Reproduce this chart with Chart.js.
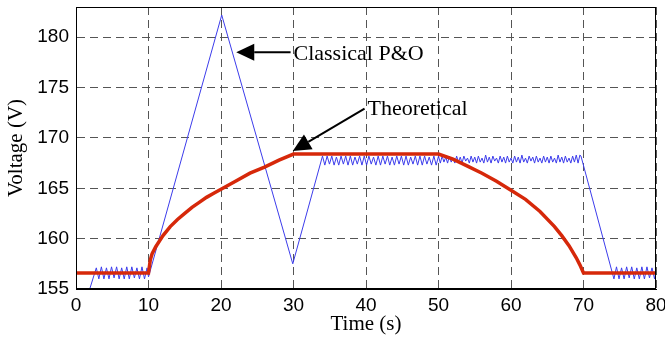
<!DOCTYPE html>
<html>
<head>
<meta charset="utf-8">
<script src="https://cdn.jsdelivr.net/npm/chart.js@4/dist/chart.umd.min.js"></script>
<style>
  body { margin: 0; background: #fff; }
</style>
</head>
<body>
<canvas id="chart" width="665" height="341"></canvas>
<script>
// time (s), voltage (V)
var theoretical = [
    [0, 156.6], [10, 156.6], [10.25, 157.9], [10.5, 158.5], [11, 159.2], [12, 160.3],
    [13, 161.2], [14, 161.9], [15, 162.5], [16, 163.1], [17, 163.6], [18, 164.1],
    [19, 164.5], [20, 164.9], [22, 165.7], [24, 166.5], [26, 167.1], [28, 167.8],
    [30, 168.4], [50, 168.4], [52, 167.9], [54, 167.2], [56, 166.5], [58, 165.7],
    [60, 164.8], [62, 163.9], [64, 162.7], [66, 161.2], [67, 160.3], [68, 159.3],
    [69, 158.1], [69.5, 157.4], [70, 156.6], [80, 156.6]
];

var classicalPO = [
    [0, 150.6], [2.8, 157.1],
    [3.15, 156.0], [3.5, 157.2], [3.85, 156.0], [4.2, 157.1], [4.55, 156.0], [4.9, 157.2],
    [5.25, 156.1], [5.6, 157.2], [5.95, 156.0], [6.3, 157.1], [6.65, 156.0], [7.0, 157.2],
    [7.35, 156.0], [7.7, 157.2], [8.05, 156.1], [8.4, 157.1], [8.75, 156.0], [9.1, 157.2],
    [9.45, 156.0], [9.8, 157.1], [10.0, 156.2],
    [20.1, 182.2], [29.9, 157.5], [34.0, 168.2],
    [34.32, 167.3], [34.64, 168.2], [34.96, 167.4], [35.28, 168.2], [35.6, 167.3], [35.92, 168.1],
    [36.24, 167.3], [36.56, 168.2], [36.88, 167.4], [37.2, 168.2], [37.52, 167.3], [37.84, 168.2],
    [38.16, 167.3], [38.48, 168.1], [38.8, 167.4], [39.12, 168.2], [39.44, 167.3], [39.76, 168.2],
    [40.08, 167.3], [40.4, 168.2], [40.72, 167.4], [41.04, 168.1], [41.36, 167.3], [41.68, 168.2],
    [42.0, 167.3], [42.32, 168.2], [42.64, 167.4], [42.96, 168.2], [43.28, 167.3], [43.6, 168.1],
    [43.92, 167.3], [44.24, 168.2], [44.56, 167.4], [44.88, 168.2], [45.2, 167.3], [45.52, 168.2],
    [45.84, 167.3], [46.16, 168.1], [46.48, 167.4], [46.8, 168.2], [47.12, 167.3], [47.44, 168.2],
    [47.76, 167.3], [48.08, 168.2], [48.4, 167.4], [48.72, 168.1], [49.04, 167.3], [49.36, 168.2],
    [49.68, 167.3], [50.0, 168.2],
    [50.25, 167.5], [50.5, 168.2], [50.75, 167.6], [51.0, 168.1], [51.25, 167.5], [51.5, 168.2],
    [51.75, 167.6], [52.0, 168.0], [52.25, 167.5], [52.5, 168.2], [52.75, 167.6], [53.0, 168.1],
    [53.25, 167.5], [53.5, 168.2], [53.75, 167.7], [54.0, 168.0], [54.25, 167.5], [54.5, 168.2],
    [54.75, 167.6], [55.0, 168.1], [55.25, 167.5], [55.5, 168.2], [55.75, 167.6], [56.0, 168.0],
    [56.25, 167.5], [56.5, 168.3], [56.75, 167.6], [57.0, 168.1], [57.25, 167.5], [57.5, 168.2],
    [57.75, 167.7], [58.0, 168.0], [58.25, 167.5], [58.5, 168.2], [58.75, 167.6], [59.0, 168.1],
    [59.25, 167.5], [59.5, 168.2], [59.75, 167.6], [60.0, 168.0], [60.25, 167.5], [60.5, 168.2],
    [60.75, 167.6], [61.0, 168.1], [61.25, 167.5], [61.5, 168.3], [61.75, 167.6], [62.0, 168.0],
    [62.25, 167.5], [62.5, 168.2], [62.75, 167.7], [63.0, 168.1], [63.25, 167.5], [63.5, 168.2],
    [63.75, 167.6], [64.0, 168.0], [64.25, 167.5], [64.5, 168.2], [64.75, 167.6], [65.0, 168.1],
    [65.25, 167.5], [65.5, 168.2], [65.75, 167.6], [66.0, 168.0], [66.25, 167.5], [66.5, 168.3],
    [66.75, 167.6], [67.0, 168.1], [67.25, 167.5], [67.5, 168.2], [67.75, 167.6], [68.0, 168.0],
    [68.25, 167.5], [68.5, 168.2], [68.75, 167.6], [69.0, 168.3], [69.25, 167.5], [69.5, 168.3],
    [69.65, 168.2],
    [74.2, 156.0], [74.55, 157.2], [74.9, 156.0], [75.25, 157.1], [75.6, 156.0], [75.95, 157.2],
    [76.3, 156.1], [76.65, 157.2], [77.0, 156.0], [77.35, 157.1], [77.7, 156.0], [78.05, 157.2],
    [78.4, 156.0], [78.75, 157.2], [79.1, 156.1], [79.45, 157.1], [79.8, 156.0], [80.0, 156.8]
];

var xTicks = [0, 10, 20, 30, 40, 50, 60, 70, 80];
var yTicks = [155, 160, 165, 170, 175, 180];

// arrow labels: text anchor, arrow tail, arrow tip (time, voltage)
var labels = [
    { text: 'Classical P&O', at: [30.0, 177.7], from: [29.6, 178.5], to: [22.1, 178.5] },
    { text: 'Theoretical', at: [40.2, 172.3], from: [39.8, 172.9], to: [29.9, 168.7] }
];

function toXY(pairs) {
    return pairs.map(function (p) { return { x: p[0], y: p[1] }; });
}

var framePlugin = {
    id: 'frame',
    afterDatasetsDraw: function (chart) {
        var ctx = chart.ctx;
        var a = chart.chartArea;
        var xs = chart.scales.x, ys = chart.scales.y;
        ctx.save();
        ctx.strokeStyle = '#000';
        ctx.lineWidth = 1;
        ctx.strokeRect(Math.round(a.left) + 0.5, Math.round(a.top) + 0.5,
            Math.round(a.right - a.left) - 1, Math.round(a.bottom - a.top) - 1);

        ctx.fillStyle = '#000';
        ctx.font = '22px "Liberation Serif", "Times New Roman", serif';
        ctx.textBaseline = 'alphabetic';
        ctx.textAlign = 'left';
        labels.forEach(function (l) {
            ctx.fillText(l.text, xs.getPixelForValue(l.at[0]), ys.getPixelForValue(l.at[1]));
            var x1 = xs.getPixelForValue(l.from[0]), y1 = ys.getPixelForValue(l.from[1]);
            var x2 = xs.getPixelForValue(l.to[0]), y2 = ys.getPixelForValue(l.to[1]);
            var ang = Math.atan2(y2 - y1, x2 - x1);
            var len = 18, half = 8.5;
            var bx = x2 - len * Math.cos(ang), by = y2 - len * Math.sin(ang);
            ctx.lineWidth = 2;
            ctx.beginPath();
            ctx.moveTo(x1, y1);
            ctx.lineTo(bx, by);
            ctx.stroke();
            ctx.beginPath();
            ctx.moveTo(x2, y2);
            ctx.lineTo(bx + half * Math.sin(ang), by - half * Math.cos(ang));
            ctx.lineTo(bx - half * Math.sin(ang), by + half * Math.cos(ang));
            ctx.closePath();
            ctx.fill();
        });
        ctx.restore();
    }
};

var ctx = document.getElementById('chart').getContext('2d');
var chart = new Chart(ctx, {
    type: 'line',
    data: {
        datasets: [{
            label: 'Theoretical',
            data: toXY(theoretical),
            borderColor: 'rgb(214, 40, 10)',
            borderWidth: 3.5,
            pointRadius: 0,
            tension: 0
        }, {
            label: 'Classical P&O',
            data: toXY(classicalPO),
            borderColor: 'rgb(60, 60, 235)',
            borderWidth: 1,
            pointRadius: 0,
            tension: 0
        }]
    },
    options: {
        responsive: false,
        animation: false,
        layout: { padding: { top: 7, right: 9, left: 0, bottom: 0 } },
        plugins: {
            legend: { display: false },
            tooltip: { enabled: false }
        },
        scales: {
            x: {
                type: 'linear',
                min: 0,
                max: 80,
                afterBuildTicks: function (s) { s.ticks = xTicks.map(function (v) { return { value: v }; }); },
                afterFit: function (s) { s.height = 52; s.paddingLeft = 0; s.paddingRight = 0; },
                ticks: {
                    color: '#000',
                    padding: 5,
                    maxRotation: 0,
                    font: { family: '"Liberation Sans", Arial, sans-serif', size: 19 }
                },
                grid: { color: '#555', lineWidth: 1, drawTicks: false },
                border: { display: true, color: '#000', dash: [8, 5] },
                title: {
                    display: true,
                    text: 'Time (s)',
                    color: '#000',
                    padding: { top: 0, bottom: 4 },
                    font: { family: '"Liberation Serif", "Times New Roman", serif', size: 21 }
                }
            },
            y: {
                min: 155,
                max: 183,
                afterBuildTicks: function (s) { s.ticks = yTicks.map(function (v) { return { value: v }; }); },
                afterFit: function (s) { s.width = 76; s.paddingTop = 0; s.paddingBottom = 0; },
                ticks: {
                    color: '#000',
                    padding: 7,
                    font: { family: '"Liberation Sans", Arial, sans-serif', size: 19 }
                },
                grid: { color: '#555', lineWidth: 1, drawTicks: false },
                border: { display: true, color: '#000', dash: [8, 5] },
                title: {
                    display: true,
                    text: 'Voltage (V)',
                    color: '#000',
                    padding: { top: 4, bottom: 0 },
                    font: { family: '"Liberation Serif", "Times New Roman", serif', size: 21 }
                }
            }
        }
    },
    plugins: [framePlugin]
});
</script>
</body>
</html>
